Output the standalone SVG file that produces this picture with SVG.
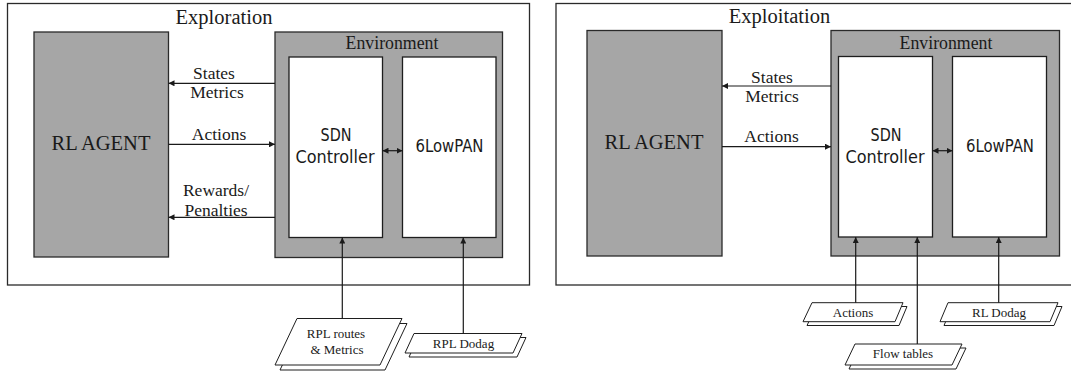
<svg xmlns="http://www.w3.org/2000/svg" width="1071" height="374" viewBox="0 0 1071 374">
  <style>
    .panel { fill: #ffffff; stroke: #2a2a2a; stroke-width: 1.3; }
    .agent { fill: #a6a6a6; stroke: #2a2a2a; stroke-width: 1.3; }
    .env { fill: #a6a6a6; stroke: #2a2a2a; stroke-width: 1.3; }
    .inner { fill: #ffffff; stroke: #1e1e1e; stroke-width: 1.3; }
    .doc { fill: #ffffff; stroke: #1e1e1e; stroke-width: 1; }
    .link { fill: none; stroke: #1a1a1a; stroke-width: 1.2; }
    .serif { font-family: "Liberation Serif", "Times New Roman", serif; fill: #1a1a1a; text-anchor: middle; }
    .title { font-size: 20.5px; }
    .envlbl { font-size: 17.8px; }
    .lbl { font-size: 17.5px; }
    .doclbl { font-size: 13px; }
    .sans { font-family: "DejaVu Sans Condensed", "DejaVu Sans", sans-serif; font-stretch: condensed; font-size: 18px; fill: #1a1a1a; text-anchor: middle; }
  </style>
  <defs>
    <marker id="head" markerUnits="userSpaceOnUse" markerWidth="7" markerHeight="6" refX="6" refY="3" orient="auto-start-reverse">
      <path d="M0,0 L6,3 L0,6 Z" fill="#1a1a1a"/>
    </marker>
  </defs>

  <!-- Exploration panel -->
  <g id="exploration">
    <rect class="panel" x="7.5" y="3.5" width="522" height="281.5"/>
    <text class="serif title" x="224" y="23.5">Exploration</text>
  </g>
  <g id="agent-explore">
    <rect class="agent" x="34" y="32" width="134.5" height="225"/>
    <text class="serif title" x="101" y="150">RL AGENT</text>
  </g>
  <g id="env-explore">
    <rect class="env" x="275" y="32" width="227.5" height="225.5"/>
    <text class="serif envlbl" x="392" y="48.5">Environment</text>
  </g>
  <g id="sdn-explore">
    <rect class="inner" x="289" y="57" width="93.5" height="180.5"/>
    <text class="sans" x="336" y="140.7" textLength="31" lengthAdjust="spacingAndGlyphs">SDN</text>
    <text class="sans" x="335" y="162.7" textLength="79" lengthAdjust="spacingAndGlyphs">Controller</text>
  </g>
  <g id="lowpan-explore">
    <rect class="inner" x="402.5" y="57" width="93.5" height="180.5"/>
    <text class="sans" x="449.5" y="151.7" textLength="68" lengthAdjust="spacingAndGlyphs">6LowPAN</text>
  </g>
  <g id="rpl-routes">
    <path class="doc" d="M302,323.5 L407,323.5 L385,370 L280,370 Z"/>
    <path class="doc" d="M297,318.5 L402,318.5 L380,365 L275,365 Z"/>
    <text class="serif doclbl" x="336" y="337.5">RPL routes</text>
    <text class="serif doclbl" x="337" y="354">&amp; Metrics</text>
  </g>
  <g id="rpl-dodag">
    <path class="doc" d="M418,337.5 L526,337.5 L517,357 L409,357 Z"/>
    <path class="doc" d="M414,333.5 L522,333.5 L513,353 L405,353 Z"/>
    <text class="serif doclbl" x="463.5" y="347.5">RPL Dodag</text>
  </g>

  <!-- Exploitation panel (right edge runs past the canvas) -->
  <g id="exploitation">
    <rect class="panel" x="556" y="3.5" width="530" height="281.5"/>
    <text class="serif title" x="779.5" y="23">Exploitation</text>
  </g>
  <g id="agent-exploit">
    <rect class="agent" x="587" y="30.5" width="135" height="225.5"/>
    <text class="serif title" x="654" y="149">RL AGENT</text>
  </g>
  <g id="env-exploit">
    <rect class="env" x="831" y="30.5" width="228.5" height="225.5"/>
    <text class="serif envlbl" x="946" y="49">Environment</text>
  </g>
  <g id="sdn-exploit">
    <rect class="inner" x="838.5" y="56.5" width="94" height="180.5"/>
    <text class="sans" x="886" y="141" textLength="31" lengthAdjust="spacingAndGlyphs">SDN</text>
    <text class="sans" x="885" y="162.7" textLength="79" lengthAdjust="spacingAndGlyphs">Controller</text>
  </g>
  <g id="lowpan-exploit">
    <rect class="inner" x="952.5" y="56.5" width="94" height="180.5"/>
    <text class="sans" x="1000" y="151.7" textLength="68" lengthAdjust="spacingAndGlyphs">6LowPAN</text>
  </g>
  <g id="actions-doc">
    <path class="doc" d="M816,306.5 L907,306.5 L899,325.5 L807,325.5 Z"/>
    <path class="doc" d="M812,302.7 L903,302.7 L895,321.7 L803,321.7 Z"/>
    <text class="serif doclbl" x="853" y="317">Actions</text>
  </g>
  <g id="rl-dodag">
    <path class="doc" d="M952,306.5 L1062,306.5 L1054,325.5 L944,325.5 Z"/>
    <path class="doc" d="M948,302.7 L1058,302.7 L1050,321.7 L940,321.7 Z"/>
    <text class="serif doclbl" x="999" y="317">RL Dodag</text>
  </g>
  <g id="flow-tables">
    <path class="doc" d="M859,348 L966,348 L956,369 L849,369 Z"/>
    <path class="doc" d="M855,344 L962,344 L952,365 L845,365 Z"/>
    <text class="serif doclbl" x="903" y="357.5">Flow tables</text>
  </g>

  <!-- Connectors -->
  <g id="connectors">
    <line class="link" x1="275" y1="83.3" x2="168.5" y2="83.3" marker-end="url(#head)"/>
    <line class="link" x1="168.5" y1="144.3" x2="275" y2="144.3" marker-end="url(#head)"/>
    <line class="link" x1="275" y1="217.3" x2="168.5" y2="217.3" marker-end="url(#head)"/>
    <line class="link" x1="382.5" y1="150.7" x2="402.5" y2="150.7" marker-start="url(#head)" marker-end="url(#head)"/>
    <line class="link" x1="342.3" y1="318.5" x2="342.3" y2="237.5" marker-end="url(#head)"/>
    <line class="link" x1="463.3" y1="333.5" x2="463.3" y2="237.5" marker-end="url(#head)"/>

    <line class="link" x1="831" y1="86" x2="722" y2="86" marker-end="url(#head)"/>
    <line class="link" x1="722" y1="146.7" x2="831" y2="146.7" marker-end="url(#head)"/>
    <line class="link" x1="932.5" y1="150.7" x2="952.5" y2="150.7" marker-start="url(#head)" marker-end="url(#head)"/>
    <line class="link" x1="855.7" y1="302.7" x2="855.7" y2="237" marker-end="url(#head)"/>
    <line class="link" x1="917.3" y1="344" x2="917.3" y2="237" marker-end="url(#head)"/>
    <line class="link" x1="998.7" y1="302.7" x2="998.7" y2="237" marker-end="url(#head)"/>

    <text class="serif lbl" x="214" y="79.3">States</text>
    <text class="serif lbl" x="217" y="98">Metrics</text>
    <text class="serif lbl" x="219" y="140">Actions</text>
    <text class="serif lbl" x="216" y="195.5">Rewards/</text>
    <text class="serif lbl" x="216" y="215.5">Penalties</text>

    <text class="serif lbl" x="772" y="83">States</text>
    <text class="serif lbl" x="772" y="101.5">Metrics</text>
    <text class="serif lbl" x="771.5" y="141.7">Actions</text>
  </g>
</svg>
